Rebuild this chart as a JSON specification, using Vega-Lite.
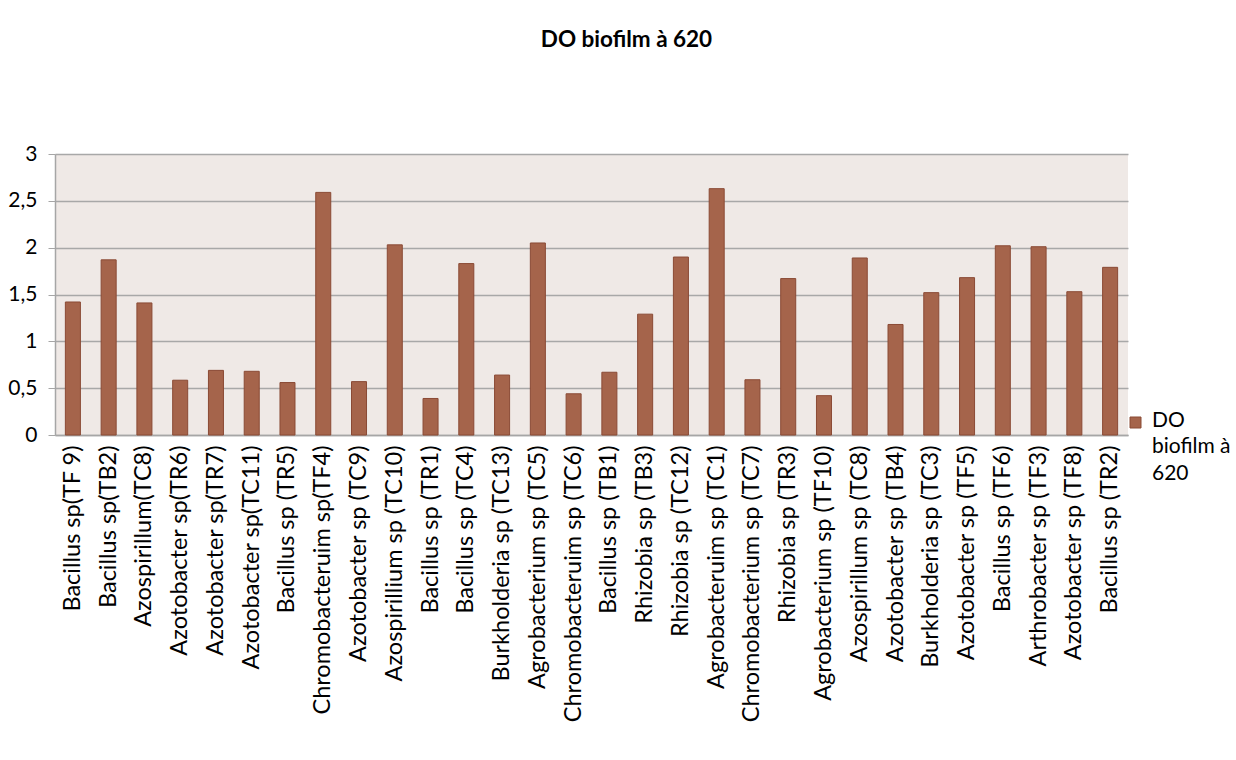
{
  "$schema": "https://vega.github.io/schema/vega-lite/v6.json",
  "description": "DO biofilm à 620",
  "autosize": "none",
  "padding": {"left": 55, "top": 154, "right": 108, "bottom": 325},
  "width": 1073,
  "height": 281,
  "background": "white",
  "title": {
    "text": "DO biofilm à 620",
    "font": "Lato",
    "fontSize": 22.5,
    "fontWeight": "bold",
    "color": "black",
    "anchor": "middle",
    "dx": 35,
    "offset": 92
  },
  "data": {
    "values": [
      {"souche": "Bacillus sp(TF 9)", "do": 1.42},
      {"souche": "Bacillus sp(TB2)", "do": 1.87},
      {"souche": "Azospirillum(TC8)", "do": 1.41},
      {"souche": "Azotobacter sp(TR6)", "do": 0.585},
      {"souche": "Azotobacter sp(TR7)", "do": 0.69},
      {"souche": "Azotobacter sp(TC11)", "do": 0.68},
      {"souche": "Bacillus sp (TR5)", "do": 0.56},
      {"souche": "Chromobacteruim sp(TF4)", "do": 2.59},
      {"souche": "Azotobacter sp (TC9)", "do": 0.57},
      {"souche": "Azospirillium sp (TC10)", "do": 2.03},
      {"souche": "Bacillus sp (TR1)", "do": 0.39},
      {"souche": "Bacillus sp (TC4)", "do": 1.83},
      {"souche": "Burkholderia sp (TC13)", "do": 0.64},
      {"souche": "Agrobacterium sp (TC5)", "do": 2.05},
      {"souche": "Chromobacteruim sp (TC6)", "do": 0.44},
      {"souche": "Bacillus sp (TB1)", "do": 0.67},
      {"souche": "Rhizobia sp (TB3)", "do": 1.29},
      {"souche": "Rhizobia sp (TC12)", "do": 1.9},
      {"souche": "Agrobacteruim sp (TC1)", "do": 2.63},
      {"souche": "Chromobacterium sp (TC7)", "do": 0.59},
      {"souche": "Rhizobia sp (TR3)", "do": 1.67},
      {"souche": "Agrobacterium sp (TF10)", "do": 0.42},
      {"souche": "Azospirillum sp (TC8)", "do": 1.89},
      {"souche": "Azotobacter sp (TB4)", "do": 1.18},
      {"souche": "Burkholderia sp (TC3)", "do": 1.52},
      {"souche": "Azotobacter sp (TF5)", "do": 1.68},
      {"souche": "Bacillus sp (TF6)", "do": 2.02},
      {"souche": "Arthrobacter sp (TF3)", "do": 2.01},
      {"souche": "Azotobacter sp (TF8)", "do": 1.53},
      {"souche": "Bacillus sp (TR2)", "do": 1.79}
    ]
  },
  "mark": {"type": "bar", "stroke": "#8a4a35", "strokeWidth": 1},
  "encoding": {
    "x": {
      "field": "souche",
      "type": "nominal",
      "sort": null,
      "title": null,
      "scale": {"paddingInner": 0.58, "paddingOuter": 0.29},
      "axis": {
        "labelAngle": -90,
        "labelFont": "Lato",
        "labelFontSize": 23.5,
        "labelLimit": 500,
        "labelColor": "black",
        "labelPadding": 10,
        "ticks": false,
        "domainColor": "#a6a6a6",
        "domainWidth": 1.5,
        "grid": false
      }
    },
    "y": {
      "field": "do",
      "type": "quantitative",
      "title": null,
      "scale": {"domain": [0, 3], "nice": false},
      "axis": {
        "values": [0, 0.5, 1, 1.5, 2, 2.5, 3],
        "labelExpr": "replace(format(datum.value, '~g'), '.', ',')",
        "labelFont": "Lato",
        "labelFontSize": 21,
        "labelColor": "black",
        "labelPadding": 11,
        "tickSize": 7,
        "tickColor": "#a6a6a6",
        "domainColor": "#a6a6a6",
        "domainWidth": 1.5,
        "gridColor": "#a8a8a8",
        "gridWidth": 1.5
      }
    },
    "color": {
      "datum": "DO biofilm à 620",
      "scale": {"range": ["#a5644b"]},
      "legend": {
        "title": null,
        "orient": "none",
        "legendX": 1070,
        "legendY": 258,
        "symbolType": "square",
        "symbolSize": 121,
        "symbolStrokeColor": "#8a4a35",
        "symbolStrokeWidth": 1,
        "labelExpr": "['DO', 'biofilm à', '620']",
        "labelFont": "Lato",
        "labelFontSize": 21,
        "labelColor": "black",
        "labelBaseline": "alphabetic",
        "labelOffset": 6,
        "encode": {
          "labels": {
            "update": {"dy": {"value": 4}, "lineHeight": {"value": 26.5}}
          }
        }
      }
    }
  },
  "config": {
    "view": {"fill": "#efe9e6", "stroke": null}
  }
}
